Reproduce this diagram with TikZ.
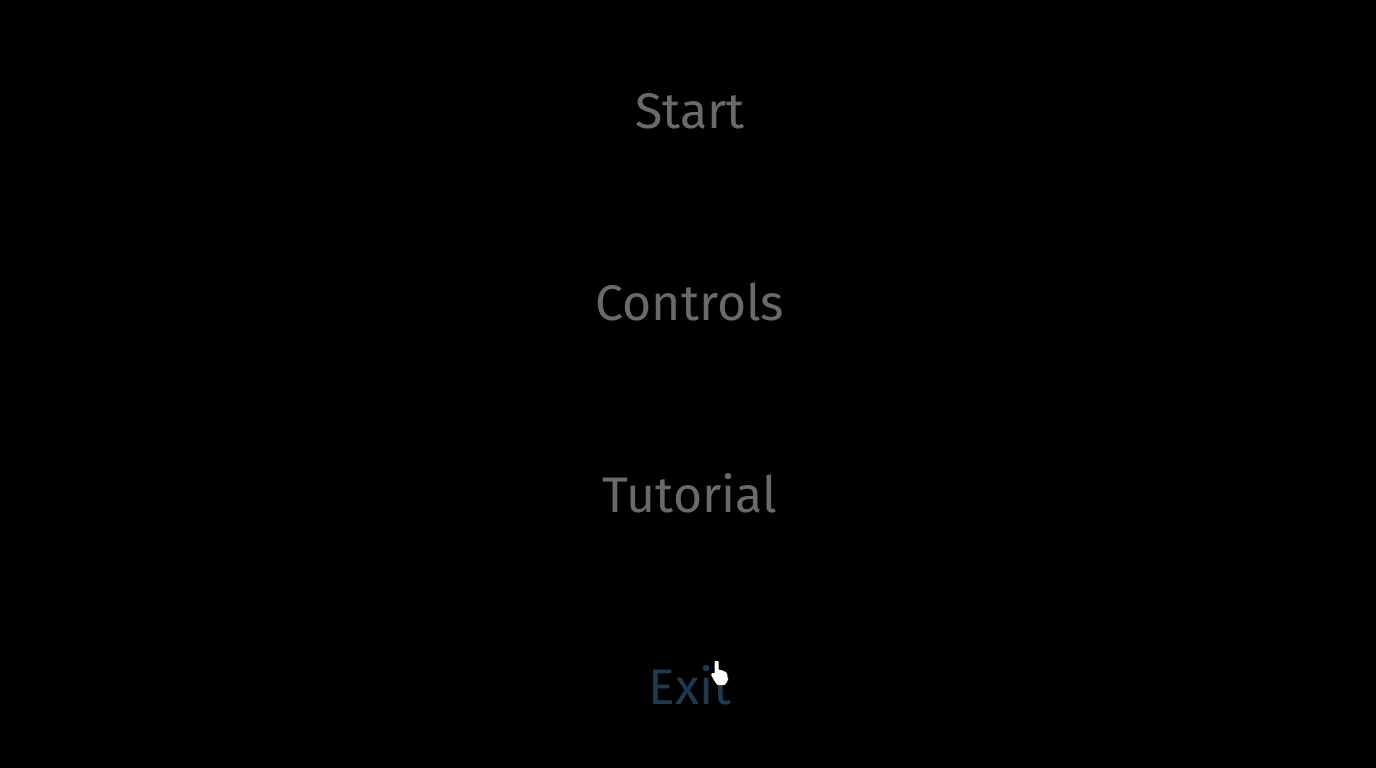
\documentclass[tikz,border=0pt]{standalone}
\usepackage{fontspec}
\setmainfont{Fira Sans}
\definecolor{menugrey}{HTML}{6A6A6A}
\definecolor{exitblue}{HTML}{1E3A50}
\begin{document}
\begin{tikzpicture}[x=1pt,y=-1pt,
  menuitem/.style={anchor=base,inner sep=0pt,text=menugrey,font=\fontsize{50}{58}\selectfont},
  hover/.style={menuitem,text=exitblue}]
\fill[black] (0,0) rectangle (1376,768);
\useasboundingbox (0,0) rectangle (1376,768);
\node[menuitem] (start) at (690,128.5) {Start};
\node[menuitem] (controls) at (690,320.5) {Controls};
\node[menuitem] (tutorial) at (690,512.5) {Tutorial};
\node[hover] (exit) at (690,704.5) {Exit};
% mouse pointer (hand)
\fill[white,rounded corners=1pt]
  (714.5,661) -- (718.5,661) -- (718.5,670) -- (721,670) -- (724,671) -- (727,673)
  -- (728,680) -- (725,685) -- (717,685) -- (714,680) -- (711,675) -- (712,672.5) -- (714.5,674) -- cycle;
\end{tikzpicture}
\end{document}
